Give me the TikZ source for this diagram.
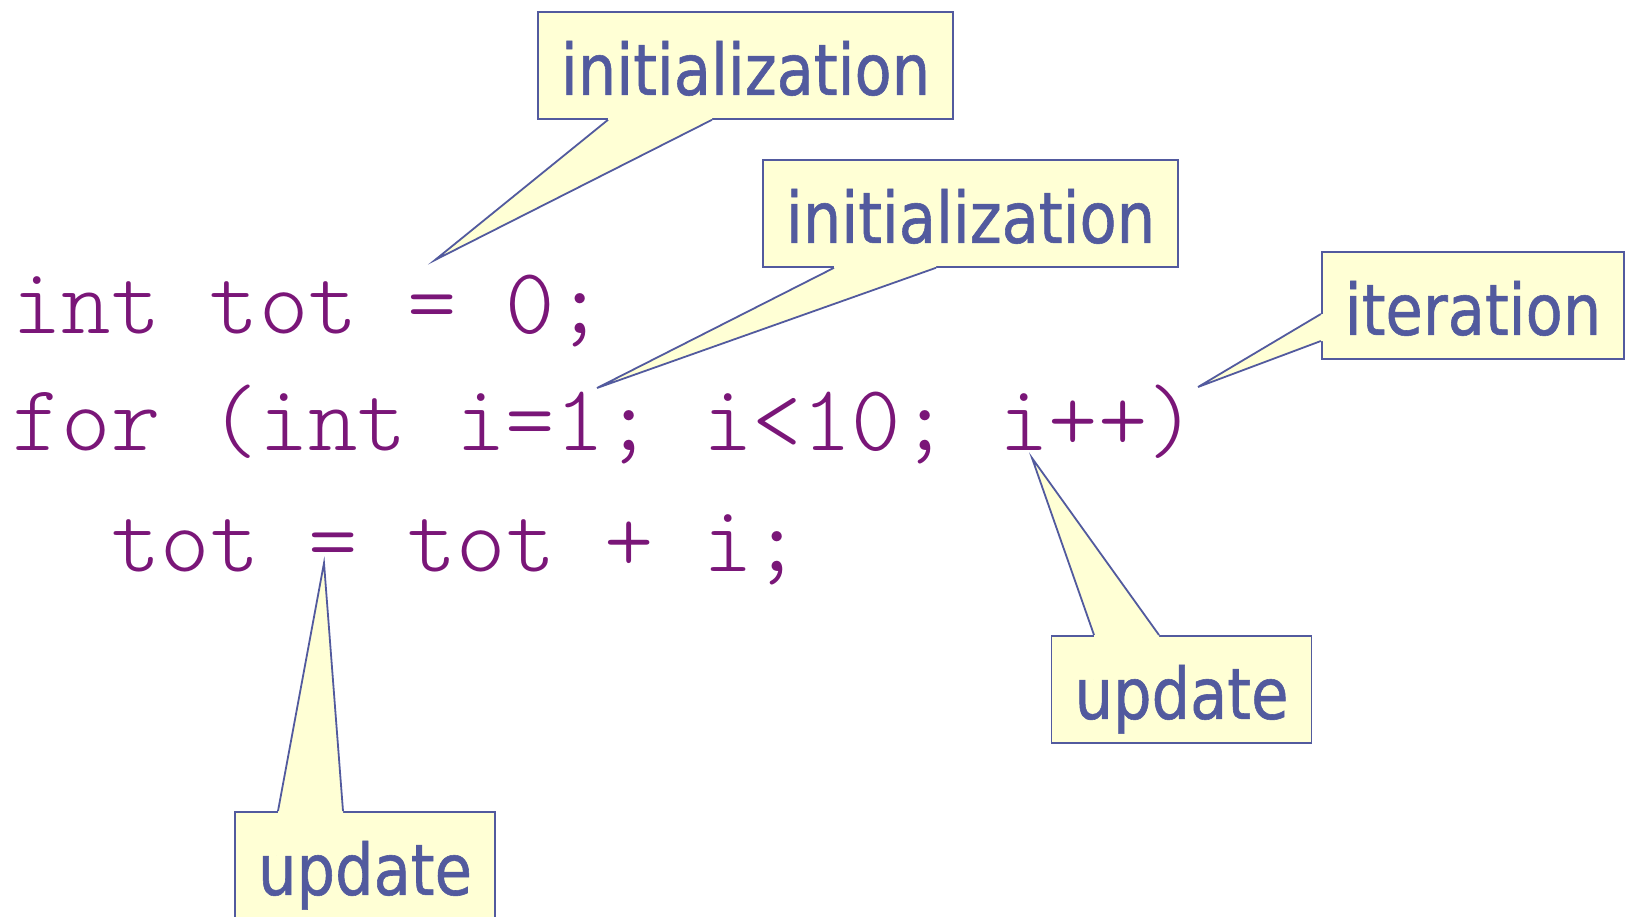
\documentclass[tikz,border=0pt]{standalone}
\usepackage{fontspec}
\newfontfamily\calloutfont[FakeStretch=0.855, FakeBold=0.8]{DejaVu Sans}
\newfontfamily\codefont{lmmonolt10-regular.otf}
\usetikzlibrary{positioning, calc}
\definecolor{codepurple}{RGB}{122,22,120}
\definecolor{calloutblue}{RGB}{82,90,158}
\definecolor{calloutfill}{RGB}{255,255,213}

\begin{document}
\begin{tikzpicture}[x=0.5pt, y=-0.5pt,
    code/.style={anchor=base west, inner sep=0pt, text=codepurple, font=\fontsize{47}{50}\selectfont\codefont},
    callout/.style={rectangle, draw=calloutblue, fill=calloutfill, line width=0.9pt, anchor=north, inner xsep=11.5pt, inner ysep=0pt, text height=41.5pt, text depth=12pt, text=calloutblue, font=\fontsize{35.5}{40}\selectfont\calloutfont},
    tail/.style={draw=calloutblue, line width=0.9pt}]

    \useasboundingbox (0,0) rectangle (1625,916);

    % Code
    \node (line_int) [code] at (12,333) {int tot = 0;};
    \node (line_for) [code] at (12,450) {for (int i=1; i<10; i++)};
    \node (line_tot) [code] at (111,571) {tot = tot + i;};

    % Callouts
    \node (init_top) [callout] at (745.5,11) {initialization};
    \node (init_for) [callout] at (970.5,159) {initialization};
    \node (iter) [callout] at (1473,251) {iteration};
    \node (upd_tot) [callout] at (365,811) {update};
    \node (upd_for) [callout] at (1181.5,635) {update};

    % Pointer tips
    \coordinate (tip_int) at (435,260);
    \coordinate (tip_init) at (597,388);
    \coordinate (tip_iter) at (1198,387);
    \coordinate (tip_tot) at (324,563);
    \coordinate (tip_incr) at (1032,458);

    % Pointer bases
    \coordinate (init_top_l) at ($(init_top.south)+(-137.5,0)$);
    \coordinate (init_top_r) at ($(init_top.south)+(-33.5,0)$);
    \coordinate (init_for_l) at ($(init_for.south)+(-136.5,0)$);
    \coordinate (init_for_r) at ($(init_for.south)+(-34.5,0)$);
    \coordinate (iter_a) at ($(iter.north west)+(0,63)$);
    \coordinate (iter_b) at ($(iter.north west)+(0,90)$);
    \coordinate (upd_tot_l) at ($(upd_tot.north)+(-87,0)$);
    \coordinate (upd_tot_r) at ($(upd_tot.north)+(-22,0)$);
    \coordinate (upd_for_l) at ($(upd_for.north)+(-87.5,0)$);
    \coordinate (upd_for_r) at ($(upd_for.north)+(-22.5,0)$);

    % Pointers
    \fill[calloutfill] ([yshift=1pt]init_top_l) -- (init_top_l) -- (tip_int) -- (init_top_r) -- ([yshift=1pt]init_top_r) -- cycle;
    \draw[tail] (init_top_l) -- (tip_int) -- (init_top_r);

    \fill[calloutfill] ([yshift=1pt]init_for_l) -- (init_for_l) -- (tip_init) -- (init_for_r) -- ([yshift=1pt]init_for_r) -- cycle;
    \draw[tail] (init_for_l) -- (tip_init) -- (init_for_r);

    \fill[calloutfill] ([xshift=1pt]iter_a) -- (iter_a) -- (tip_iter) -- (iter_b) -- ([xshift=1pt]iter_b) -- cycle;
    \draw[tail] (iter_a) -- (tip_iter) -- (iter_b);

    \fill[calloutfill] ([yshift=-1pt]upd_tot_l) -- (upd_tot_l) -- (tip_tot) -- (upd_tot_r) -- ([yshift=-1pt]upd_tot_r) -- cycle;
    \draw[tail] (upd_tot_l) -- (tip_tot) -- (upd_tot_r);

    \fill[calloutfill] ([yshift=-1pt]upd_for_l) -- (upd_for_l) -- (tip_incr) -- (upd_for_r) -- ([yshift=-1pt]upd_for_r) -- cycle;
    \draw[tail] (upd_for_l) -- (tip_incr) -- (upd_for_r);

\end{tikzpicture}
\end{document}
